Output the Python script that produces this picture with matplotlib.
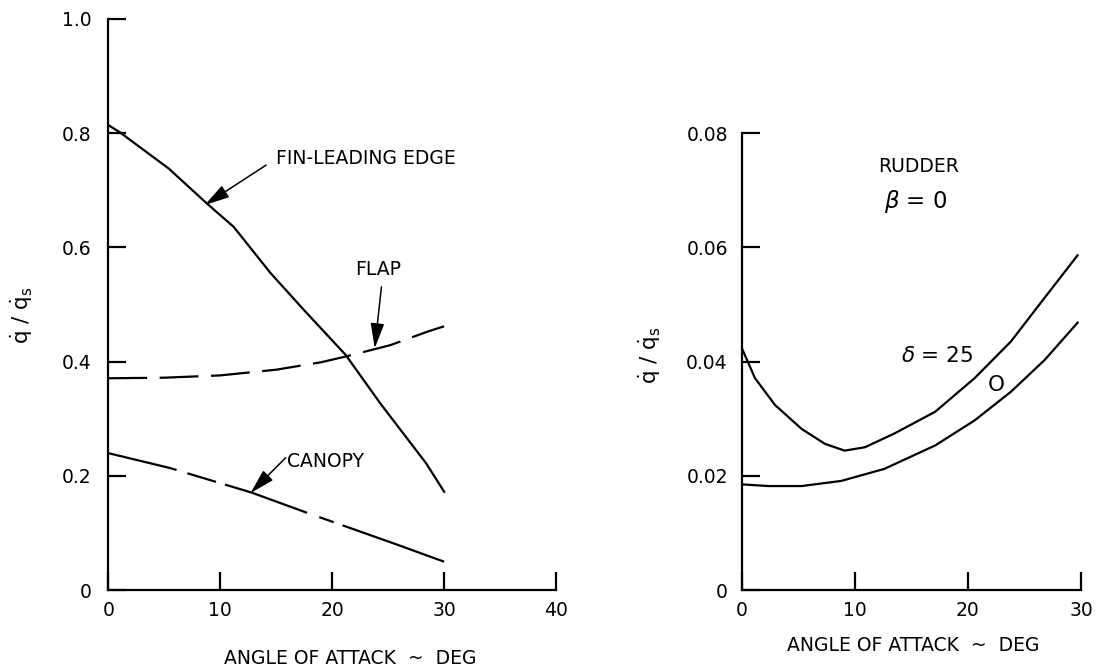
import numpy as np
import matplotlib
matplotlib.use("Agg")
import matplotlib.pyplot as plt

plt.rcParams['font.family'] = ['DejaVu Sans']
plt.rcParams['mathtext.fontset'] = 'dejavusans'
plt.rcParams['lines.scale_dashes'] = False

# left panel data (angle of attack, deg vs q/qs)
fin_x = [0, 1.0, 5.4, 8.8, 11.2, 14.5, 17.5, 21.2, 24.3, 28.4, 30]
fin_y = [0.814, 0.802, 0.738, 0.677, 0.636, 0.555, 0.490, 0.412, 0.327, 0.222, 0.1725]

flap_x = [0, 5, 10, 15, 19, 21.2, 25.2, 28.5, 30]
flap_y = [0.371, 0.372, 0.376, 0.386, 0.399, 0.409, 0.429, 0.4525, 0.462]

canopy_x = [0, 5.5, 12.8, 17.7, 25.5, 30]
canopy_y = [0.240, 0.214, 0.171, 0.136, 0.082, 0.050]

# right panel data (rudder, beta = 0)
rud25_x = [0, 1.17, 2.94, 5.3, 7.35, 9.1, 10.9, 13.5, 17.1, 20.6, 23.8, 26.8, 29.7]
rud25_y = [0.0424, 0.0371, 0.0324, 0.0282, 0.0256, 0.0244, 0.0250, 0.0274, 0.0312,
           0.0371, 0.0435, 0.0512, 0.0586]

rud0_x = [0, 2.35, 5.3, 8.8, 12.6, 17.1, 20.6, 23.8, 26.8, 29.7]
rud0_y = [0.0185, 0.0182, 0.0182, 0.0191, 0.0212, 0.0253, 0.0297, 0.0347, 0.0403, 0.0468]

left_xticks = [0, 10, 20, 30, 40]
left_yticks = [0, 0.2, 0.4, 0.6, 0.8, 1.0]
left_ylabels = ['0', '0.2', '0.4', '0.6', '0.8', '1.0']
right_xticks = [0, 10, 20, 30]
right_yticks = [0, 0.02, 0.04, 0.06, 0.08]
right_ylabels = ['0', '0.02', '0.04', '0.06', '0.08']

xlabel = 'ANGLE OF ATTACK  ~  DEG'
ylabel = r'$\dot{\mathrm{q}}\ /\ \dot{\mathrm{q}}_\mathrm{s}$'

fig = plt.figure(figsize=(10.99, 6.72), dpi=100)
ax1 = fig.add_axes([0.0985, 0.1216, 0.4075, 0.8504])
ax2 = fig.add_axes([0.6749, 0.122, 0.3087, 0.680])

lw = 1.6
fs = 13.5


def style_axes(ax, xt, yt, ylab, ypad):
    for s in ['top', 'right']:
        ax.spines[s].set_visible(False)
    for s in ['left', 'bottom']:
        ax.spines[s].set_linewidth(1.6)
    ax.set_xticks(xt)
    ax.set_xticklabels([str(v) for v in xt])
    ax.set_yticks(yt)
    ax.set_yticklabels(ylab)
    ax.tick_params(direction='in', length=13, width=1.6, labelsize=fs)
    ax.tick_params(axis='x', pad=8)
    ax.tick_params(axis='y', pad=ypad)


# left panel
ax1.plot(fin_x, fin_y, color='k', lw=lw)
ax1.plot(flap_x, flap_y, color='k', lw=lw, dashes=(28, 9))
ax1.plot(canopy_x, canopy_y, color='k', lw=lw,
         dashes=(50.7, 8.1, 21.5, 6.8, 62.5, 9.3, 11.0, 6.8, 90, 5))
ax1.set_xlim(0, 40)
ax1.set_ylim(0, 1.0)
style_axes(ax1, left_xticks, left_yticks, left_ylabels, 12)

arrow = dict(arrowstyle='-|>,head_width=0.3,head_length=1.1', color='k', lw=1.1,
             shrinkA=0, shrinkB=0, mutation_scale=14)
ax1.text(15.0, 0.756, 'FIN-LEADING EDGE', fontsize=fs, ha='left', va='center')
ax1.annotate('', xy=(8.6, 0.674), xytext=(14.1, 0.744), arrowprops=arrow)
ax1.text(24.1, 0.562, 'FLAP', fontsize=fs, ha='center', va='center')
ax1.annotate('', xy=(23.8, 0.4235), xytext=(24.4, 0.531), arrowprops=arrow)
ax1.text(16.0, 0.225, 'CANOPY', fontsize=fs, ha='left', va='center')
ax1.annotate('', xy=(12.7, 0.170), xytext=(15.85, 0.232), arrowprops=arrow)

# right panel
ax2.plot(rud25_x, rud25_y, color='k', lw=lw)
ax2.plot(rud0_x, rud0_y, color='k', lw=lw)
ax2.set_xlim(0, 30)
ax2.set_ylim(0, 0.08)
style_axes(ax2, right_xticks, right_yticks, right_ylabels, 10)

ax2.text(15.6, 0.0741, 'RUDDER', fontsize=fs, ha='center', va='center')
ax2.text(15.4, 0.068, r'$\beta$ = 0', fontsize=fs + 3, ha='center', va='center')
ax2.text(17.3, 0.0409, r'$\delta$ = 25', fontsize=fs + 2, ha='center', va='center')
ax2.text(22.5, 0.0359, 'O', fontsize=fs + 2, ha='center', va='center')

# axis titles placed in figure coordinates
fig.text(0.3185, 0.0208, xlabel, fontsize=fs, ha='center', va='center')
fig.text(0.831, 0.040, xlabel, fontsize=fs, ha='center', va='center')
fig.text(0.020, 0.531, ylabel, fontsize=fs + 2, ha='center', va='center', rotation=90)
fig.text(0.5914, 0.4717, ylabel, fontsize=fs + 2, ha='center', va='center', rotation=90)

fig.savefig('out.png', dpi=100)
